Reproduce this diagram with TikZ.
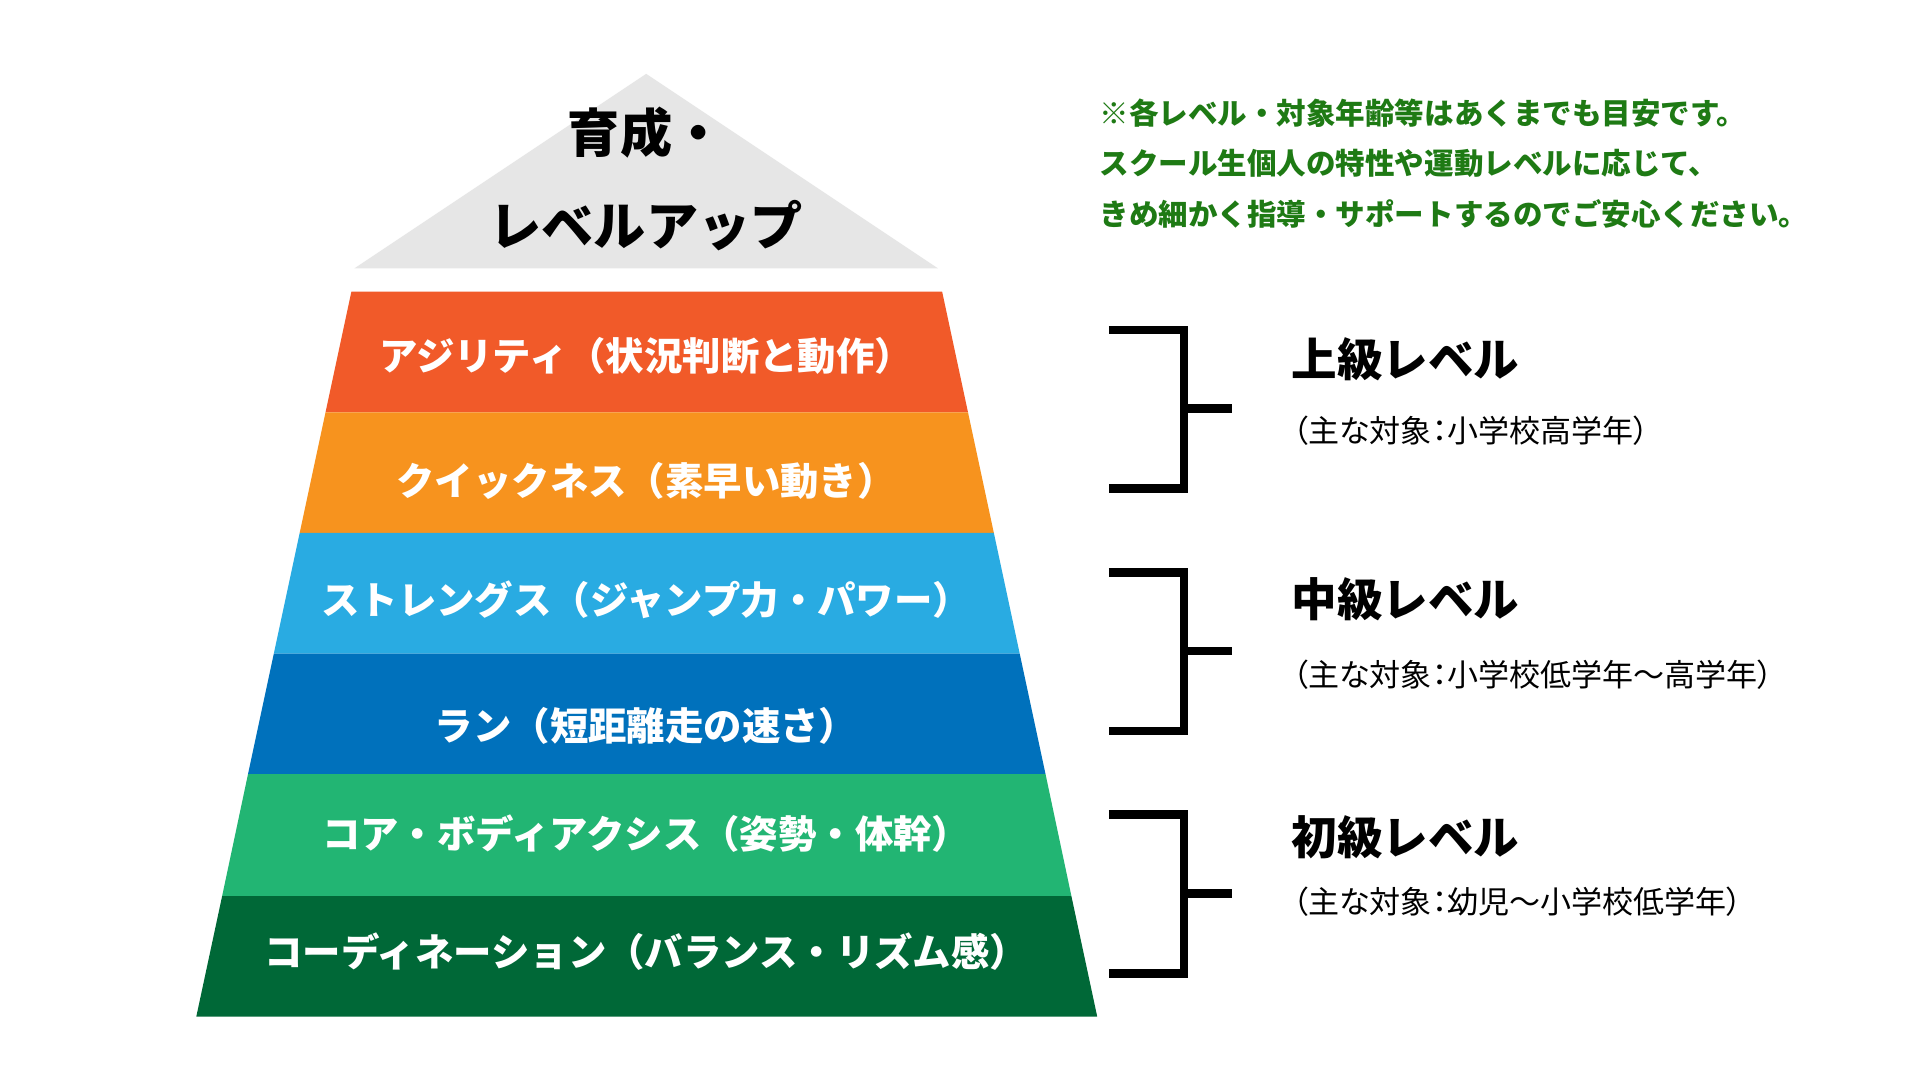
\documentclass[tikz,border=0pt]{standalone}
\usepackage{fontspec}
\setmainfont{Noto Sans CJK JP}
\newfontfamily\jpp[RawFeature=+palt]{Noto Sans CJK JP}
\definecolor{cA}{HTML}{F15A29}
\definecolor{cB}{HTML}{F7931E}
\definecolor{cC}{HTML}{29ABE2}
\definecolor{cD}{HTML}{0071BC}
\definecolor{cE}{HTML}{22B573}
\definecolor{cF}{HTML}{006837}
\definecolor{cG}{HTML}{E6E6E6}
\definecolor{noteg}{RGB}{30,122,20}
\tikzset{
  bandtxt/.style={text=white,font=\bfseries\fontsize{15.6pt}{18pt}\selectfont,inner sep=0pt},
  toptxt/.style={text=black,font=\bfseries\fontsize{21.2pt}{24pt}\selectfont,inner sep=0pt},
  notetxt/.style={text=noteg,font=\bfseries\fontsize{12pt}{14pt}\selectfont,inner sep=0pt,anchor=west},
  lvltxt/.style={text=black,font=\bfseries\fontsize{18.5pt}{22pt}\selectfont,inner sep=0pt,anchor=west},
  subtxt/.style={text=black,font=\jpp\fontsize{12.6pt}{14pt}\selectfont,inner sep=0pt,anchor=west},
  brk/.style={draw=black,line width=3.5pt,line join=miter}
}
\begin{document}
\begin{tikzpicture}[x=0.5pt,y=-0.5pt]
\useasboundingbox (0,0) rectangle (1560,877.5);
\fill[white] (0,0) rectangle (1560,877.5);
% top triangle
\fill[cG] (525,60) -- (762,218) -- (288,218) -- cycle;
\node[toptxt] (t1) at (525,108) {育成・};
\node[toptxt] (t2) at (525,183) {レベルアップ};
% bands
\fill[cA] (285.5,237) -- (765.5,237) -- (786.5,335) -- (264.5,335) -- cycle;
\fill[cB] (264.5,335) -- (786.5,335) -- (807.5,433) -- (243.5,433) -- cycle;
\fill[cC] (243.5,433) -- (807.5,433) -- (828.5,531) -- (222.5,531) -- cycle;
\fill[cD] (222.5,531) -- (828.5,531) -- (849.5,629) -- (201.5,629) -- cycle;
\fill[cE] (201.5,629) -- (849.5,629) -- (870.5,728) -- (180.5,728) -- cycle;
\fill[cF] (180.5,728) -- (870.5,728) -- (891.5,826) -- (159.5,826) -- cycle;
\node[bandtxt] (b1) at (525,289) {アジリティ（状況判断と動作）};
\node[bandtxt] (b2) at (525,391) {クイックネス（素早い動き）};
\node[bandtxt] (b3) at (525,487) {ストレングス（ジャンプ力・パワー）};
\node[bandtxt] (b4) at (525,590) {ラン（短距離走の速さ）};
\node[bandtxt] (b5) at (525,677) {コア・ボディアクシス（姿勢・体幹）};
\node[bandtxt] (b6) at (525,773) {コーディネーション（バランス・リズム感）};
% note
\node[notetxt] (n1) at (893,92) {※各レベル・対象年齢等はあくまでも目安です。};
\node[notetxt] (n2) at (893,133) {スクール生個人の特性や運動レベルに応じて、};
\node[notetxt] (n3) at (893,174) {きめ細かく指導・サポートするのでご安心ください。};
% brackets
\draw[brk] (901,268) -- (962,268) -- (962,397) -- (901,397);
\draw[brk] (962,332) -- (1001,332);
\draw[brk] (901,465) -- (962,465) -- (962,594) -- (901,594);
\draw[brk] (962,529) -- (1001,529);
\draw[brk] (901,662) -- (962,662) -- (962,791) -- (901,791);
\draw[brk] (962,726) -- (1001,726);
% level labels
\node[lvltxt] (l1) at (1049,292) {上級レベル};
\node[subtxt] (s1) at (1050,350) {（主な対象：小学校高学年）};
\node[lvltxt] (l2) at (1049,487) {中級レベル};
\node[subtxt] (s2) at (1050,548) {（主な対象：小学校低学年～高学年）};
\node[lvltxt] (l3) at (1049,680) {初級レベル};
\node[subtxt] (s3) at (1050,733) {（主な対象：幼児～小学校低学年）};
\end{tikzpicture}
\end{document}
